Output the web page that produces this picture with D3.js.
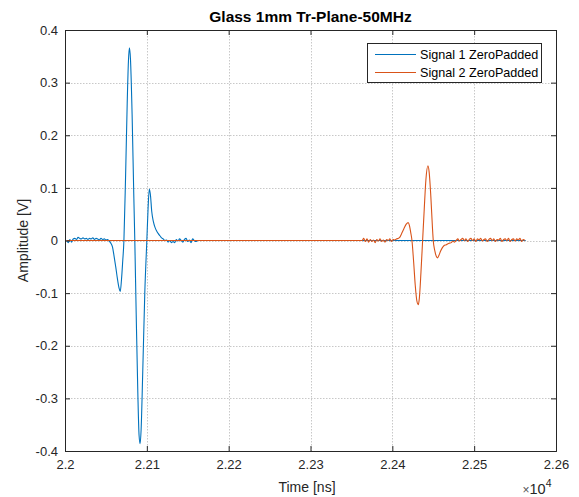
<!DOCTYPE html>
<html><head><meta charset="utf-8">
<script src="https://cdn.jsdelivr.net/npm/d3@7"></script>
<style>body{margin:0;background:#fff;} svg{display:block;font-family:"Liberation Sans",Arial,sans-serif;}</style>
</head><body><div id="chart"></div>
<script>
// ---- data (time in ns, amplitude in V) ----
const title = "Glass 1mm Tr-Plane-50MHz";
const seriesNames = ["Signal 1 ZeroPadded", "Signal 2 ZeroPadded"];
const xTicks = [22000, 22100, 22200, 22300, 22400, 22500, 22600];
const xTickLabels = ["2.2", "2.21", "2.22", "2.23", "2.24", "2.25", "2.26"];
const yTicks = [-0.4, -0.3, -0.2, -0.1, 0, 0.1, 0.2, 0.3, 0.4];
const yTickLabels = ["-0.4", "-0.3", "-0.2", "-0.1", "0", "0.1", "0.2", "0.3", "0.4"];
const padStart = 22002, padEnd = 22563;

const signal1Time = [22002,22004,22006,22008,22010,22012,22014,22016,22018,22020,22022,22024,22026,22028,22030,22032,22034,22036,22038,22040,22042,22044,22046,22048,22050,22052,22054,
  22056,22058,22060,22062,22064,22066,22067.5,22069,22070.5,22072,22074,22076,22077.5,22078.7,22080,22082,22084,22085.3,22087,22089,22090.5,22091.8,22093,22095,22097.5,22100,22101.5,22103,22104.5,22106,22108,22110,22112,22114,22116,22118,22120,22122,
  22124,22126,22128,22130,22132,22134,22136,22138,22140,22142,22144,22146,22148,22150,22152,22154,22156,22158,22160,22162];
const signal1Amp = [0.0,-0.004,0.002,-0.003,0.003,0.004,0.002,0.006,0.004,0.003,0.005,0.003,0.004,0.002,0.004,0.003,0.005,0.002,0.004,0.003,0.001,0.004,0.002,0.003,0.001,0.002,-0.001,
  -0.005,-0.012,-0.03,-0.05,-0.072,-0.09,-0.097,-0.075,-0.04,0.0,0.12,0.26,0.34,0.366,0.345,0.24,0.09,0.0,-0.14,-0.29,-0.37,-0.386,-0.36,-0.25,-0.1,0.0,0.06,0.098,0.085,0.055,0.036,0.025,0.018,0.013,0.009,0.005,0.003,0.0,
  0.001,-0.003,0.0,-0.004,-0.002,-0.004,0.002,-0.001,0.003,0.0,-0.003,0.002,0.004,-0.002,0.001,-0.004,0.003,0.0,-0.002,0.0];

const signal2Time = [22363,22365,22367,22369,22371,22373,22375,22377,22379,22381,22383,22385,22387,22389,22391,22393,22395,22397,22399,22401,22403,22405,22407,
  22409,22411,22414,22417,22419.4,22421,22422.5,22424,22426,22428,22430,22431.7,22433,22435,22437,22439,22441,22443.5,22445,22447,22449,22450,22452,22454,22455.3,22457,22459,22461,22463,
  22466,22468,22470,22472,22474,22476,22478,22480,22482,22484,22486,22488,22490,22492,22494,22496,22498,22500,22502,22504,22506,22508,22510,22512,22514,22516,22518,22520,22522,22524,22526,22528,22530,22532,22534,22536,22538,22540,22542,22544,22546,22548,22550,22552,22554,22556,22558,22560,22562];
const signal2Amp = [0.0,0.004,-0.002,0.003,-0.003,0.002,-0.002,0.001,-0.004,0.002,-0.001,0.003,-0.002,0.001,-0.003,0.002,0.0,0.003,-0.002,0.002,0.001,0.003,0.004,
  0.006,0.012,0.022,0.031,0.034,0.028,0.015,0.0,-0.04,-0.085,-0.115,-0.122,-0.11,-0.06,0.0,0.06,0.115,0.142,0.13,0.085,0.025,0.0,-0.02,-0.031,-0.033,-0.028,-0.02,-0.014,-0.01,
  -0.008,-0.006,-0.005,-0.004,-0.001,-0.003,0.0,0.003,-0.001,0.002,0.004,0.0,0.003,-0.002,0.002,0.004,0.0,0.003,-0.002,0.003,0.001,0.004,-0.001,0.002,0.003,-0.002,0.002,0.004,0.0,0.003,-0.002,0.002,0.001,0.004,-0.002,0.002,0.003,0.0,0.004,-0.002,0.002,0.003,-0.001,0.003,0.001,0.004,-0.002,0.002,0.0];

const colors = ["#0072BD", "#D95319"];

// ---- layout ----
const W = 579, H = 497;
const m = {left: 65, right: 556, top: 30, bottom: 451};
const x = d3.scaleLinear().domain([22000, 22600]).range([m.left, m.right]);
const y = d3.scaleLinear().domain([-0.4, 0.4]).range([m.bottom, m.top]);
const axisColor = "#262626";

const svg = d3.select("#chart").append("svg").attr("width", W).attr("height", H);
svg.append("rect").attr("width", W).attr("height", H).attr("fill", "#fff");

// grid
const grid = svg.append("g").attr("stroke", "#c8c8c8").attr("stroke-width", 1).attr("stroke-dasharray", "1.5,1.5");
grid.selectAll("line.gx").data(xTicks.slice(1, -1)).join("line")
  .attr("x1", d => Math.round(x(d)) + 0.5).attr("x2", d => Math.round(x(d)) + 0.5)
  .attr("y1", m.top).attr("y2", m.bottom);
grid.selectAll("line.gy").data(yTicks.slice(1, -1)).join("line")
  .attr("y1", d => Math.round(y(d)) + 0.5).attr("y2", d => Math.round(y(d)) + 0.5)
  .attr("x1", m.left).attr("x2", m.right);

// series
const build1 = signal1Time.map((t, i) => [t, signal1Amp[i]]).concat([[padEnd, 0]]);
const build2 = [[padStart, 0]].concat(signal2Time.map((t, i) => [t, signal2Amp[i]]));
const line = d3.line().x(d => x(d[0])).y(d => y(d[1])).curve(d3.curveMonotoneX);
svg.append("path").datum(build1).attr("d", line).attr("fill", "none").attr("stroke", colors[0]).attr("stroke-width", 1.1);
svg.append("path").datum(build2).attr("d", line).attr("fill", "none").attr("stroke", colors[1]).attr("stroke-width", 1.1);

// axes
const tickLen = 5;
const xAxisB = d3.axisBottom(x).tickValues(xTicks).tickSize(-tickLen).tickPadding(9).tickFormat((d, i) => xTickLabels[i]);
const xAxisT = d3.axisTop(x).tickValues(xTicks).tickSize(-tickLen).tickFormat("");
const yAxisL = d3.axisLeft(y).tickValues(yTicks).tickSize(-tickLen).tickPadding(7).tickFormat((d, i) => yTickLabels[i]);
const yAxisR = d3.axisRight(y).tickValues(yTicks).tickSize(-tickLen).tickFormat("");
function style(g) {
  g.select(".domain").attr("stroke", axisColor).attr("stroke-width", 1);
  g.selectAll(".tick line").attr("stroke", axisColor);
  g.selectAll(".tick text").attr("fill", axisColor).style("font-size", "13px").style("font-family", "Liberation Sans, Arial, sans-serif");
}
svg.append("g").attr("transform", `translate(0,${m.bottom})`).call(xAxisB).call(style);
svg.append("g").attr("transform", `translate(0,${m.top})`).call(xAxisT).call(style);
svg.append("g").attr("transform", `translate(${m.left},0)`).call(yAxisL).call(style);
svg.append("g").attr("transform", `translate(${m.right},0)`).call(yAxisR).call(style);

// title and labels
svg.append("text").attr("x", (m.left + m.right) / 2).attr("y", 22).attr("text-anchor", "middle")
  .attr("font-weight", "bold").attr("font-size", 15.5).attr("fill", "#000").text(title);
svg.append("text").attr("x", 307).attr("y", 492).attr("text-anchor", "middle")
  .attr("font-size", 14).attr("fill", axisColor).text("Time [ns]");
svg.append("text").attr("transform", `translate(28,${(m.top + m.bottom) / 2}) rotate(-90)`).attr("text-anchor", "middle")
  .attr("font-size", 14).attr("fill", axisColor).text("Amplitude [V]");
const expo = svg.append("text").attr("x", 522.5).attr("y", 494).attr("fill", axisColor);
expo.append("tspan").attr("font-size", 12).attr("fill", "#555").text("\u00d7");
expo.append("tspan").attr("font-size", 14.5).text("10");
expo.append("tspan").attr("dy", -7).attr("font-size", 10.5).text("4");

// legend
const lg = svg.append("g");
lg.append("rect").attr("x", 367.5).attr("y", 43.5).attr("width", 174).attr("height", 39)
  .attr("fill", "#fff").attr("stroke", axisColor).attr("stroke-width", 1);
seriesNames.forEach((name, i) => {
  const yy = 54.5 + i * 18;
  lg.append("line").attr("x1", 375).attr("x2", 416).attr("y1", yy).attr("y2", yy).attr("stroke", colors[i]).attr("stroke-width", 1.1);
  lg.append("text").attr("x", 420).attr("y", yy + 4.5).attr("font-size", 12.6).attr("fill", "#000").text(name);
});
</script></body></html>
